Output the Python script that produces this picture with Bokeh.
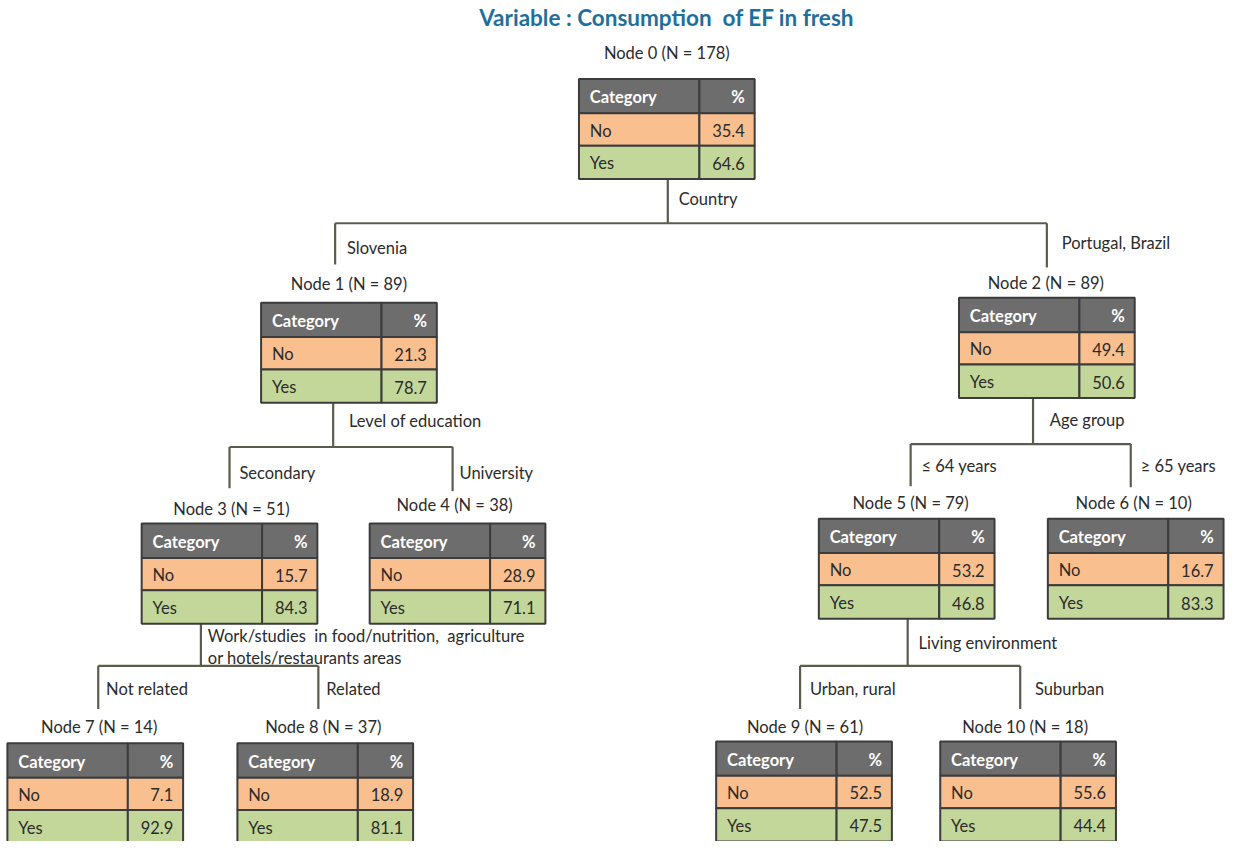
from bokeh.plotting import figure
from bokeh.models import Range1d
from bokeh.core.properties import value
from bokeh.embed import file_html
from bokeh.resources import INLINE

# ---------------- data ----------------
title_text = "Variable : Consumption\u00a0 of EF in fresh"
node_ids = [0, 1, 2, 3, 4, 5, 6, 7, 8, 9, 10]
node_n = [178, 89, 89, 51, 38, 79, 10, 14, 37, 61, 18]
pct_no = [35.4, 21.3, 49.4, 15.7, 28.9, 53.2, 16.7, 7.1, 18.9, 52.5, 55.6]
pct_yes = [64.6, 78.7, 50.6, 84.3, 71.1, 46.8, 83.3, 92.9, 81.1, 47.5, 44.4]
categories = ["No", "Yes"]
header = ["Category", "%"]
parents = [None, 0, 0, 1, 1, 2, 2, 3, 3, 5, 5]
branch_labels = ["", "Slovenia", "Portugal, Brazil", "Secondary", "University",
                 "\u2264 64 years", "\u2265 65 years", "Not related", "Related",
                 "Urban, rural", "Suburban"]
split_vars = {0: ["Country"], 1: ["Level of education"], 2: ["Age group"],
              3: ["Work/studies\u00a0 in food/nutrition,\u00a0 agriculture", "or hotels/restaurants areas"],
              5: ["Living environment"]}

# ---------------- layout (pixel positions) ----------------
tbl_left = {0: 586, 1: 264, 2: 971, 3: 143, 4: 374, 5: 829, 6: 1061, 7: 7, 8: 240, 9: 725, 10: 952}
tbl_top = {0: 80, 1: 308, 2: 303, 3: 533, 4: 533, 5: 528, 6: 528, 7: 757, 8: 757, 9: 755, 10: 755}
TW, DIV = 178, 122
ROWH = [35, 33, 34]
label_xy = {0: (675, 53), 1: (353, 289), 2: (1059, 288), 3: (234, 518), 4: (460, 514),
            5: (922, 512), 6: (1148, 512), 7: (100, 740), 8: (327, 740), 9: (815, 740), 10: (1038, 740)}
stem_x = {0: 676, 1: 337, 2: 1046, 3: 203, 5: 919}
bar_y = {0: 227, 1: 455, 2: 452, 3: 678, 5: 678}
drop_x = {1: 339, 2: 1060, 3: 232, 4: 458, 5: 922, 6: 1145, 7: 99, 8: 322, 9: 810, 10: 1033}
drop_end = {1: 269, 2: 272, 3: 497, 4: 500, 5: 495, 6: 496, 7: 722, 8: 722, 9: 722, 10: 722}
branch_xy = {1: (351, 252), 2: (1075, 247), 3: (242, 481), 4: (465, 481), 5: (933, 474),
             6: (1155, 474), 7: (107, 702), 8: (330, 702), 9: (820, 702), 10: (1048, 702)}
split_xy = {0: (687, 202), 1: (353, 429), 2: (1063, 427), 3: (210, 648), 5: (930, 655)}

FONT = value("Lato")
HEAD_C, NO_C, YES_C = "#6d6d6d", "#fabf8f", "#c4d79b"
LINE_C, BORDER_C, TXT_C = "#5c5c4e", "#3c3c3c", "#2b2b2b"
LBL_SIZE, TBL_SIZE = "16.5px", "16.5px"

p = figure(width=1227, height=841, x_range=Range1d(0, 1243), y_range=Range1d(857, 0),
           output_backend="svg", toolbar_location=None, min_border=0)
p.axis.visible = False
p.grid.visible = False
p.outline_line_color = None
p.background_fill_color = "white"

# connectors
xs, ys = [], []
for par in stem_x:
    kids = [k for k in node_ids if parents[k] == par]
    bottom = tbl_top[par] + sum(ROWH)
    xs.append([stem_x[par], stem_x[par]]); ys.append([bottom, bar_y[par]])
    xs.append([drop_x[kids[0]], drop_x[kids[-1]]]); ys.append([bar_y[par], bar_y[par]])
    for k in kids:
        xs.append([drop_x[k], drop_x[k]]); ys.append([bar_y[par], drop_end[k]])
p.multi_line(xs, ys, line_color=LINE_C, line_width=2.2)

# tables
L, R, T, B, F = [], [], [], [], []
tx, ty, tt, tc, tw, ta = [], [], [], [], [], []
for i in node_ids:
    x0 = tbl_left[i]; xd = x0 + DIV; x1 = x0 + TW
    y = tbl_top[i]
    rows = [(header[0], header[1], HEAD_C, "white", "bold"),
            (categories[0], f"{pct_no[i]:.1f}", NO_C, TXT_C, "normal"),
            (categories[1], f"{pct_yes[i]:.1f}", YES_C, TXT_C, "normal")]
    for (c1, c2, fc, col, wt), h in zip(rows, ROWH):
        L += [x0, xd]; R += [xd, x1]; T += [y, y]; B += [y + h, y + h]; F += [fc, fc]
        tx += [x0 + 11, x1 - 10]; ty += [y + h / 2 + 1, y + h / 2 + 1]; tt += [c1, c2]
        tc += [col, col]; tw += [wt, wt]; ta += ["left", "right"]
        y += h
p.quad(left=L, right=R, top=T, bottom=B, fill_color=F, line_color=BORDER_C, line_width=2)
src = dict(x=tx, y=ty, t=tt, c=tc, w=tw, a=ta)
p.text(x="x", y="y", text="t", text_color="c", text_font_style="w", text_align="a",
       source=src, text_font=FONT, text_font_size=TBL_SIZE, text_baseline="middle")

# node labels
p.text(x=[label_xy[i][0] for i in node_ids], y=[label_xy[i][1] for i in node_ids],
       text=[f"Node {i} (N = {node_n[i]})" for i in node_ids], text_font=FONT,
       text_font_size=LBL_SIZE, text_align="center", text_baseline="middle", text_color=TXT_C)

# branch labels
bk = [k for k in node_ids if k in branch_xy]
p.text(x=[branch_xy[k][0] for k in bk], y=[branch_xy[k][1] for k in bk],
       text=[branch_labels[k] for k in bk], text_font=FONT, text_font_size=LBL_SIZE,
       text_align="left", text_baseline="middle", text_color=TXT_C)

# split variable labels
sx, sy, st = [], [], []
for k, lines in split_vars.items():
    for j, ln in enumerate(lines):
        sx.append(split_xy[k][0]); sy.append(split_xy[k][1] + 22 * j); st.append(ln)
p.text(x=sx, y=sy, text=st, text_font=FONT, text_font_size=LBL_SIZE, text_align="left",
       text_baseline="middle", text_color=TXT_C)

# title
p.text(x=[675], y=[17], text=[title_text], text_font=FONT, text_font_size="22.5px",
       text_font_style="bold", text_align="center", text_baseline="middle", text_color="#1f6f9c")

open("out.html", "w").write(file_html(p, INLINE))
